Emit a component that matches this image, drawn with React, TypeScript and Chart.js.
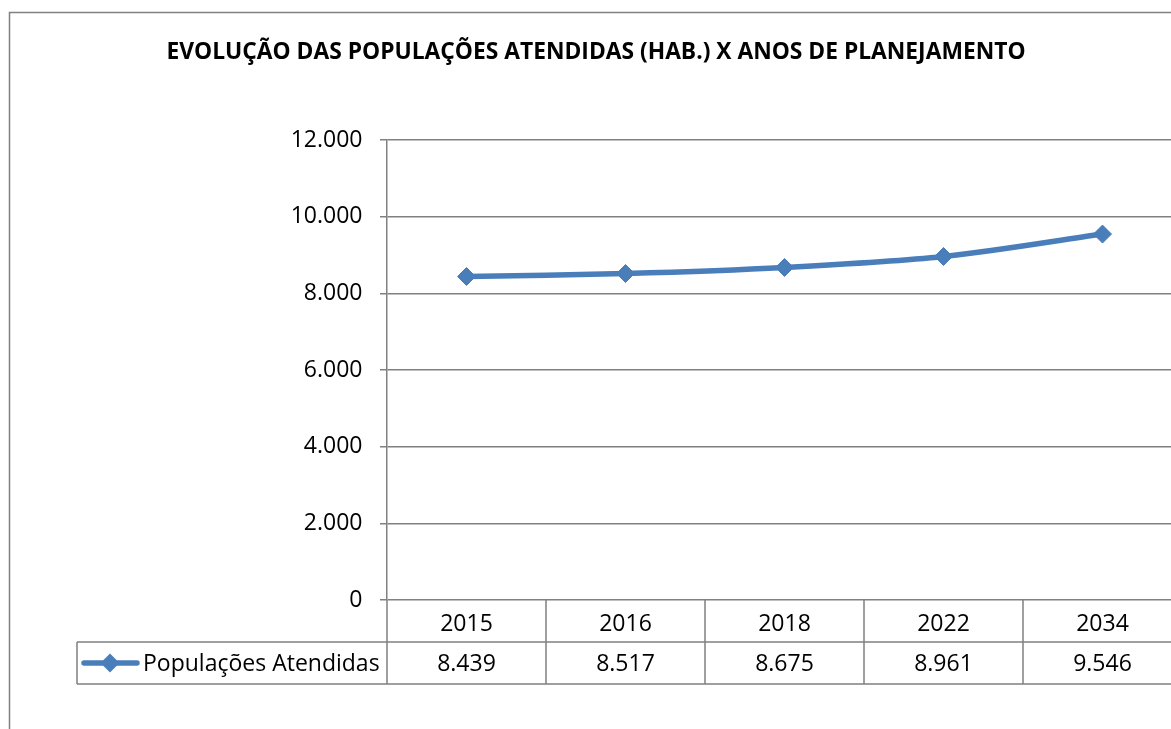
import React, { useEffect, useRef } from 'react';
import { Chart, registerables } from 'chart.js';

Chart.register(...registerables);

const TITLE = 'EVOLUÇÃO DAS POPULAÇÕES ATENDIDAS (HAB.) X ANOS DE PLANEJAMENTO';
const YEARS = ['2015', '2016', '2018', '2022', '2034'];
const POPULATION = [8439, 8517, 8675, 8961, 9546];
const SERIES_LABEL = 'Populações Atendidas';
const Y_MIN = 0;
const Y_MAX = 12000;
const Y_STEP = 2000;

const LINE_COLOR = '#4A7EBB';
const GRID_COLOR = '#808080';
const FONT_FAMILY = "'Open Sans', 'Noto Sans', sans-serif";

const fmt = (v: number) =>
  Math.round(v)
    .toString()
    .replace(/\B(?=(\d{3})+(?!\d))/g, '.');

const drawDiamond = (ctx: CanvasRenderingContext2D, x: number, y: number, r: number) => {
  ctx.beginPath();
  ctx.moveTo(x, y - r);
  ctx.lineTo(x + r, y);
  ctx.lineTo(x, y + r);
  ctx.lineTo(x - r, y);
  ctx.closePath();
  ctx.fill();
};

const framePlugin = {
  id: 'framePlugin',
  beforeDraw(chart: any) {
    const ctx: CanvasRenderingContext2D = chart.ctx;
    ctx.save();
    ctx.fillStyle = '#ffffff';
    ctx.fillRect(0, 0, chart.width, chart.height);
    // outer chart border
    ctx.strokeStyle = GRID_COLOR;
    ctx.lineWidth = 1.5;
    ctx.beginPath();
    ctx.moveTo(9.5, chart.height + 2);
    ctx.lineTo(9.5, 12.5);
    ctx.lineTo(chart.width + 2, 12.5);
    ctx.stroke();
    // title
    ctx.fillStyle = '#000000';
    ctx.font = `bold 22.8px ${FONT_FAMILY}`;
    ctx.textAlign = 'center';
    ctx.textBaseline = 'alphabetic';
    ctx.fillText(TITLE, 596, 58.5);
    ctx.restore();
  },
  afterDraw(chart: any) {
    const ctx: CanvasRenderingContext2D = chart.ctx;
    const area = chart.chartArea;
    const xs = chart.scales.x;
    const n = YEARS.length;
    const colW = (area.right - area.left) / n;
    const rowH = 42;
    const top = area.bottom;
    const mid = top + rowH;
    const bottom = top + 2 * rowH;
    const legendLeft = 77;

    ctx.save();
    ctx.strokeStyle = GRID_COLOR;
    ctx.lineWidth = 1.5;
    ctx.beginPath();
    // horizontal lines
    ctx.moveTo(legendLeft, mid);
    ctx.lineTo(area.right, mid);
    ctx.moveTo(legendLeft, bottom);
    ctx.lineTo(area.right, bottom);
    // vertical lines
    ctx.moveTo(legendLeft, mid);
    ctx.lineTo(legendLeft, bottom);
    for (let i = 0; i <= n; i++) {
      const x = area.left + i * colW;
      ctx.moveTo(x, top);
      ctx.lineTo(x, bottom);
    }
    ctx.stroke();

    // texts
    ctx.fillStyle = '#000000';
    ctx.font = `23px ${FONT_FAMILY}`;
    ctx.textAlign = 'center';
    ctx.textBaseline = 'alphabetic';
    YEARS.forEach((yr, i) => {
      const cx = xs.getPixelForValue(i);
      ctx.fillText(yr, cx, top + 30.5);
      ctx.fillText(fmt(POPULATION[i]), cx, mid + 28.5);
    });

    // legend key
    const ky = mid + 21;
    ctx.strokeStyle = LINE_COLOR;
    ctx.lineWidth = 5.5;
    ctx.lineCap = 'round';
    ctx.beginPath();
    ctx.moveTo(84, ky);
    ctx.lineTo(137, ky);
    ctx.stroke();
    ctx.fillStyle = LINE_COLOR;
    drawDiamond(ctx, 110, ky, 9.5);
    ctx.fillStyle = '#000000';
    ctx.textAlign = 'left';
    ctx.fillText(SERIES_LABEL, 143, mid + 28.5);
    ctx.restore();
  },
};

export default function App() {
  const canvasRef = useRef<HTMLCanvasElement | null>(null);

  useEffect(() => {
    const canvas = canvasRef.current;
    if (!canvas) return;
    const chart = new Chart(canvas, {
      type: 'line',
      data: {
        labels: YEARS,
        datasets: [
          {
            label: SERIES_LABEL,
            data: POPULATION,
            borderColor: LINE_COLOR,
            backgroundColor: LINE_COLOR,
            borderWidth: 5.5,
            tension: 0.3,
            pointStyle: 'rectRot',
            pointRadius: 9,
            pointBorderWidth: 1,
            pointBackgroundColor: LINE_COLOR,
            pointBorderColor: LINE_COLOR,
            fill: false,
          },
        ],
      },
      options: {
        animation: false,
        responsive: false,
        devicePixelRatio: 1,
        layout: { padding: { left: 0, top: 140, right: 18, bottom: 129 } },
        plugins: {
          legend: { display: false },
          title: { display: false },
          tooltip: { enabled: false },
        },
        scales: {
          x: {
            type: 'category',
            offset: true,
            display: false,
          },
          y: {
            min: Y_MIN,
            max: Y_MAX,
            afterFit: (scale: any) => {
              scale.width = 387;
            },
            ticks: {
              stepSize: Y_STEP,
              padding: 17.5,
              color: '#000000',
              font: { family: FONT_FAMILY, size: 23 },
              callback: (v: any) => fmt(Number(v)),
            },
            grid: {
              color: GRID_COLOR,
              lineWidth: 1.5,
              drawTicks: true,
              tickLength: 7,
            },
            border: { display: true, color: GRID_COLOR, width: 1.5 },
          },
        },
      },
      plugins: [framePlugin],
    });
    return () => chart.destroy();
  }, []);

  return (
    <div
      style={{
        position: 'fixed',
        left: 0,
        top: 0,
        width: 1171,
        height: 729,
        overflow: 'hidden',
        background: '#ffffff',
      }}
    >
      <canvas ref={canvasRef} width={1200} height={729} style={{ display: 'block', width: 1200, height: 729 }} />
    </div>
  );
}
